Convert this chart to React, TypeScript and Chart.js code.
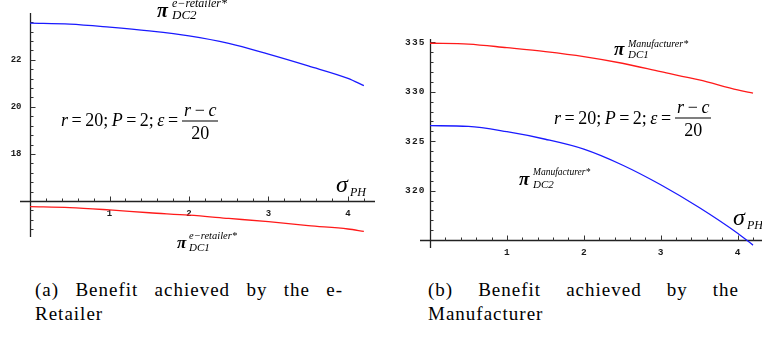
import React, { useEffect, useRef } from 'react';
import { Chart, registerables } from 'chart.js';

Chart.register(...registerables);

// ---- data ----
const sigmaPH = [0, 0.5, 1, 1.5, 2, 2.5, 3, 3.5, 4, 4.2];
const retailerDC2 = [23.56, 23.52, 23.39, 23.23, 23.02, 22.7, 22.24, 21.74, 21.21, 20.9];
const retailerDC1 = [15.76, 15.72, 15.62, 15.5, 15.4, 15.26, 15.12, 14.95, 14.81, 14.71];
const manufacturerDC1 = [334.9, 334.82, 334.45, 334.05, 333.55, 332.88, 332.03, 331.19, 330.18, 329.85];
const manufacturerDC2 = [326.57, 326.5, 325.96, 325.2, 324.2, 322.6, 320.6, 318.3, 315.7, 314.5];

const xTickLabels = [1, 2, 3, 4];
const retailerYTickLabels = [18, 20, 22];
const manufacturerYTickLabels = [320, 325, 330, 335];

const SERIF = '"Liberation Serif", "Times New Roman", serif';

type AxisOpts = {
  cross: number;
  xMinor: number;
  xMajorEvery: number;
  yMinor: number;
  yMajorEvery: number;
  xLabels: number[];
  yLabels: number[];
  yLabelGap: number;
  fontSize: number;
  spacing: number;
};

function mmaAxes(o: AxisOpts) {
  return {
    id: 'mmaAxes',
    beforeDatasetsDraw(chart: any) {
      const { ctx } = chart;
      const xs = chart.scales.x;
      const ys = chart.scales.y;
      const ax = Math.round(xs.getPixelForValue(0)) + 0.5;
      const ay = Math.round(ys.getPixelForValue(o.cross)) + 0.5;
      ctx.save();
      ctx.strokeStyle = '#222';
      ctx.lineWidth = 1.3;
      ctx.beginPath();
      ctx.moveTo(xs.left, ay);
      ctx.lineTo(xs.right, ay);
      ctx.moveTo(ax, ys.top);
      ctx.lineTo(ax, ys.bottom);
      ctx.stroke();

      ctx.lineWidth = 1;
      ctx.strokeStyle = '#333';
      ctx.beginPath();
      for (let k = 1; k * o.xMinor <= xs.max + 1e-9; k++) {
        const px = Math.round(xs.getPixelForValue(k * o.xMinor)) + 0.5;
        const len = k % o.xMajorEvery === 0 ? 5 : 3;
        ctx.moveTo(px, ay);
        ctx.lineTo(px, ay - len);
      }
      const kStart = Math.ceil(ys.min / o.yMinor - 1e-9);
      const kEnd = Math.floor(ys.max / o.yMinor + 1e-9);
      for (let k = kStart; k <= kEnd; k++) {
        const v = k * o.yMinor;
        if (Math.abs(v - o.cross) < 1e-6) continue;
        const py = Math.round(ys.getPixelForValue(v)) + 0.5;
        const len = ((k % o.yMajorEvery) + o.yMajorEvery) % o.yMajorEvery === 0 ? 5 : 3;
        ctx.moveTo(ax, py);
        ctx.lineTo(ax + len, py);
      }
      ctx.stroke();

      ctx.fillStyle = '#1a1a1a';
      ctx.font = `bold ${o.fontSize}px "Liberation Mono", "Courier New", monospace`;
      try {
        (ctx as any).letterSpacing = `${o.spacing}px`;
      } catch (e) {}
      ctx.textAlign = 'center';
      ctx.textBaseline = 'middle';
      o.xLabels.forEach((v) => {
        ctx.fillText(String(v), xs.getPixelForValue(v) + o.spacing / 2, ay + 12);
      });
      ctx.textAlign = 'right';
      o.yLabels.forEach((v) => {
        ctx.fillText(String(v), ax - o.yLabelGap + o.spacing, ys.getPixelForValue(v));
      });
      ctx.restore();
    },
  };
}

type PanelProps = {
  left: number;
  top: number;
  width: number;
  height: number;
  padding: { left: number; right: number; top: number; bottom: number };
  xRange: [number, number];
  yRange: [number, number];
  series: { data: number[]; color: string }[];
  axes: AxisOpts;
};

function Panel(p: PanelProps) {
  const ref = useRef<HTMLCanvasElement | null>(null);
  useEffect(() => {
    if (!ref.current) return;
    const chart = new Chart(ref.current, {
      type: 'line',
      data: {
        datasets: p.series.map((s) => ({
          data: sigmaPH.map((x, i) => ({ x, y: s.data[i] })),
          borderColor: s.color,
          borderWidth: 1.3,
          pointRadius: 0,
          cubicInterpolationMode: 'monotone',
          fill: false,
        })),
      },
      options: {
        animation: false,
        responsive: false,
        devicePixelRatio: 1,
        layout: { padding: p.padding },
        plugins: { legend: { display: false }, tooltip: { enabled: false } },
        scales: {
          x: { type: 'linear', min: p.xRange[0], max: p.xRange[1], display: false },
          y: { type: 'linear', min: p.yRange[0], max: p.yRange[1], display: false },
        },
      },
      plugins: [mmaAxes(p.axes)],
    } as any);
    return () => chart.destroy();
  }, []);
  return (
    <canvas
      ref={ref}
      width={p.width}
      height={p.height}
      style={{ position: 'absolute', left: p.left, top: p.top, width: p.width, height: p.height }}
    />
  );
}

function Txt(props: {
  x: number;
  base: number;
  size: number;
  italic?: boolean;
  bold?: boolean;
  children: React.ReactNode;
}) {
  return (
    <span
      style={{
        position: 'absolute',
        left: props.x,
        top: props.base - 0.8375 * props.size,
        fontFamily: SERIF,
        fontSize: props.size,
        lineHeight: `${props.size}px`,
        fontStyle: props.italic ? 'italic' : 'normal',
        fontWeight: props.bold ? 'bold' : 'normal',
        whiteSpace: 'nowrap',
        color: '#000',
      }}
    >
      {props.children}
    </span>
  );
}

function PiLabel(props: {
  x: number;
  base: number;
  size: number;
  sup: string;
  supSize: number;
  supBase: number;
  sub: string;
  subSize: number;
  subBase: number;
  dx: number;
}) {
  return (
    <>
      <Txt x={props.x} base={props.base} size={props.size} bold italic>
        π
      </Txt>
      <Txt x={props.x + props.dx} base={props.supBase} size={props.supSize} italic>
        {props.sup}
      </Txt>
      <Txt x={props.x + props.dx} base={props.subBase} size={props.subSize} italic>
        {props.sub}
      </Txt>
    </>
  );
}

function Formula({ x, barY }: { x: number; barY: number }) {
  return (
    <div
      style={{
        position: 'absolute',
        left: x,
        top: barY,
        transform: 'translateY(-50%)',
        display: 'flex',
        alignItems: 'center',
        fontFamily: SERIF,
        fontSize: 18,
        lineHeight: 1,
        whiteSpace: 'nowrap',
        color: '#000',
        wordSpacing: -1,
      }}
    >
      <span style={{ position: 'relative', top: -1 }}>
        <i>r</i> = 20; <i>P</i> = 2; <i>ε</i> =
      </span>
      <span style={{ display: 'inline-flex', flexDirection: 'column', alignItems: 'center', marginLeft: 4 }}>
        <span style={{ padding: '0 2px 2px' }}>
          <i>r</i>
          {'\u2009−\u2009'}
          <i>c</i>
        </span>
        <span style={{ borderTop: '1px solid #000', alignSelf: 'stretch', textAlign: 'center', paddingTop: 2 }}>20</span>
      </span>
    </div>
  );
}

function Sigma({ x, base }: { x: number; base: number }) {
  return (
    <>
      <Txt x={x} base={base} size={24} italic>
        σ
      </Txt>
      <Txt x={x + 14} base={base + 4} size={12} italic>
        PH
      </Txt>
    </>
  );
}

function Caption({ x, width, line1, line2 }: { x: number; width: number; line1: string; line2: string }) {
  return (
    <div
      style={{
        position: 'absolute',
        left: x,
        top: 278,
        width,
        fontFamily: SERIF,
        fontSize: 19,
        letterSpacing: 1,
        lineHeight: '24px',
        color: '#000',
      }}
    >
      <div style={{ textAlign: 'justify', textAlignLast: 'justify' }}>{line1}</div>
      <div>{line2}</div>
    </div>
  );
}

export default function App() {
  return (
    <div
      style={{
        position: 'absolute',
        left: 0,
        top: 0,
        width: 762,
        height: 338,
        overflow: 'hidden',
        background: '#fff',
      }}
    >
      <Panel
        left={0}
        top={0}
        width={381}
        height={265}
        padding={{ left: 20, right: 6, top: 13, bottom: 28 }}
        xRange={[-0.126, 4.34]}
        yRange={[14.47, 23.99]}
        series={[
          { data: retailerDC2, color: '#1a1aff' },
          { data: retailerDC1, color: '#ff1a1a' },
        ]}
        axes={{
          cross: 16,
          xMinor: 0.2,
          xMajorEvery: 5,
          yMinor: 0.4,
          yMajorEvery: 5,
          xLabels: xTickLabels,
          yLabels: retailerYTickLabels,
          yLabelGap: 9,
          fontSize: 9,
          spacing: 0,
        }}
      />
      <Panel
        left={381}
        top={0}
        width={381}
        height={265}
        padding={{ left: 39, right: 0, top: 39, bottom: 17 }}
        xRange={[-0.13, 4.317]}
        yRange={[314.21, 335.33]}
        series={[
          { data: manufacturerDC1, color: '#ff1a1a' },
          { data: manufacturerDC2, color: '#1a1aff' },
        ]}
        axes={{
          cross: 315,
          xMinor: 0.2,
          xMajorEvery: 5,
          yMinor: 1,
          yMajorEvery: 5,
          xLabels: xTickLabels,
          yLabels: manufacturerYTickLabels,
          yLabelGap: 6,
          fontSize: 9.5,
          spacing: 1.2,
        }}
      />

      <PiLabel x={157} base={17} size={20} dx={15} sup="e−retailer*" supSize={12} supBase={7.5} sub="DC2" subSize={13} subBase={18.5} />
      <PiLabel x={177} base={248} size={17} dx={12} sup="e−retailer*" supSize={10.5} supBase={239.5} sub="DC1" subSize={11} subBase={251.5} />
      <PiLabel x={614} base={55} size={19} dx={14} sup="Manufacturer*" supSize={10} supBase={47} sub="DC1" subSize={11} subBase={58.5} />
      <PiLabel x={519} base={185} size={19} dx={14} sup="Manufacturer*" supSize={9.5} supBase={176} sub="DC2" subSize={11} subBase={188.5} />

      <Formula x={61} barY={120.5} />
      <Formula x={554} barY={118} />

      <Sigma x={336} base={192} />
      <Sigma x={733} base={225} />

      <Caption x={35} width={308} line1="(a) Benefit achieved by the e-" line2="Retailer" />
      <Caption x={428} width={311} line1="(b) Benefit achieved by the" line2="Manufacturer" />
    </div>
  );
}
